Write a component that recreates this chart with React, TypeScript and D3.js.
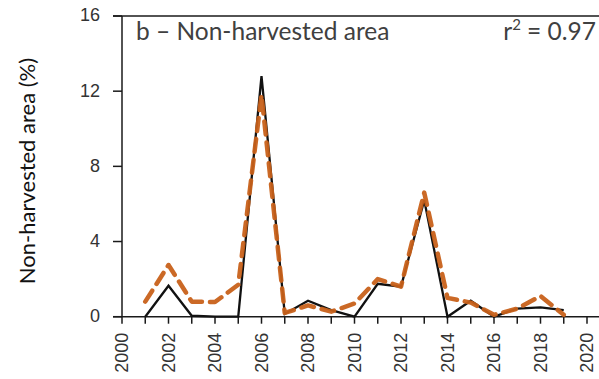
import React, { useEffect, useRef } from "react";
import * as d3 from "d3";

// Annual non-harvested area, observed vs. modelled (%)
const years = [2001, 2002, 2003, 2004, 2005, 2006, 2007, 2008, 2009, 2010, 2011, 2012, 2013, 2014, 2015, 2016, 2017, 2018, 2019];
const observed = [0.0, 1.65, 0.05, 0.0, 0.0, 12.8, 0.15, 0.85, 0.35, 0.0, 1.75, 1.6, 6.2, 0.0, 0.85, 0.0, 0.43, 0.5, 0.35];
const modelled = [0.8, 2.75, 0.8, 0.78, 1.7, 11.8, 0.2, 0.6, 0.27, 0.7, 2.0, 1.6, 6.6, 1.0, 0.75, 0.1, 0.43, 1.1, 0.1];
const yTicks = [0, 4, 8, 12, 16];
const xTicks = d3.range(2000, 2021, 2);

const W = 599;
const H = 379;

export default function App() {
  const ref = useRef<SVGSVGElement>(null);

  useEffect(() => {
    const svg = d3.select(ref.current);
    svg.selectAll("*").remove();

    const x = d3.scaleLinear().domain([2000, 2020]).range([122, 587]);
    const y = d3.scaleLinear().domain([0, 16]).range([316.7, 16]);

    const axisColor = "#1a1a1a";
    const tickFont = "Liberation Sans, Arial, sans-serif";

    // frame: top edge and y axis
    svg.append("line").attr("x1", 113).attr("x2", W).attr("y1", y(16)).attr("y2", y(16))
      .attr("stroke", axisColor).attr("stroke-width", 1.5);
    svg.append("line").attr("x1", 122).attr("x2", 122).attr("y1", y(16)).attr("y2", y(0))
      .attr("stroke", axisColor).attr("stroke-width", 1.5);
    // x axis baseline
    svg.append("line").attr("x1", 113).attr("x2", W).attr("y1", y(0)).attr("y2", y(0))
      .attr("stroke", axisColor).attr("stroke-width", 1.5);

    // y ticks and labels
    const yg = svg.append("g");
    yTicks.forEach((t) => {
      yg.append("line").attr("x1", 113).attr("x2", 122).attr("y1", y(t)).attr("y2", y(t))
        .attr("stroke", axisColor).attr("stroke-width", 1.5);
      yg.append("text").attr("x", 100).attr("y", y(t) - 1).attr("dy", "0.36em")
        .attr("text-anchor", "end").attr("font-family", tickFont)
        .attr("font-size", 18).attr("fill", "#333").text(t);
    });

    // x ticks and rotated labels
    const xg = svg.append("g");
    d3.range(2000, 2021, 1).forEach((yr) => {
      xg.append("line").attr("x1", x(yr)).attr("x2", x(yr)).attr("y1", y(0)).attr("y2", y(0) + 7)
        .attr("stroke", axisColor).attr("stroke-width", 1.5);
    });
    xTicks.forEach((t) => {
      xg.append("text")
        .attr("transform", `translate(${x(t)},${y(0) + 16}) rotate(-90)`)
        .attr("dy", "0.36em").attr("text-anchor", "end")
        .attr("font-family", tickFont)
        .attr("font-size", 18).attr("fill", "#333").text(t);
    });

    const line = d3.line<number>()
      .x((_, i) => x(years[i]))
      .y((d) => y(d));

    // observed series
    svg.append("path").datum(observed).attr("d", line)
      .attr("fill", "none").attr("stroke", "#111").attr("stroke-width", 2.3)
      .attr("stroke-linejoin", "miter");

    // modelled series
    svg.append("path").datum(modelled).attr("d", line)
      .attr("fill", "none").attr("stroke", "#C8611A").attr("stroke-width", 4.5)
      .attr("stroke-dasharray", "13,8").attr("stroke-linecap", "round")
      .attr("stroke-linejoin", "round").attr("opacity", 0.95);

    // panel label and fit statistic
    svg.append("text").attr("x", 136).attr("y", 40)
      .attr("font-family", "Lato, sans-serif").attr("font-size", 24.5).attr("fill", "#404040")
      .text("b \u2013 Non-harvested area");
    const r2 = svg.append("text").attr("x", 596).attr("y", 40).attr("text-anchor", "end")
      .attr("font-family", "Lato, sans-serif").attr("font-size", 24.5).attr("fill", "#404040");
    r2.append("tspan").text("r");
    r2.append("tspan").attr("font-size", 15).attr("dy", -10).text("2");
    r2.append("tspan").attr("dy", 10).text(" = 0.97");

    // y axis title
    svg.append("text")
      .attr("transform", `translate(35,171) rotate(-90)`)
      .attr("text-anchor", "middle")
      .attr("font-family", "Lato, sans-serif").attr("font-size", 22).attr("fill", "#111")
      .text("Non-harvested area (%)");
  }, []);

  return (
    <svg ref={ref} width={W} height={H}
      style={{ position: "absolute", left: 0, top: 0, background: "#fff" }} />
  );
}
